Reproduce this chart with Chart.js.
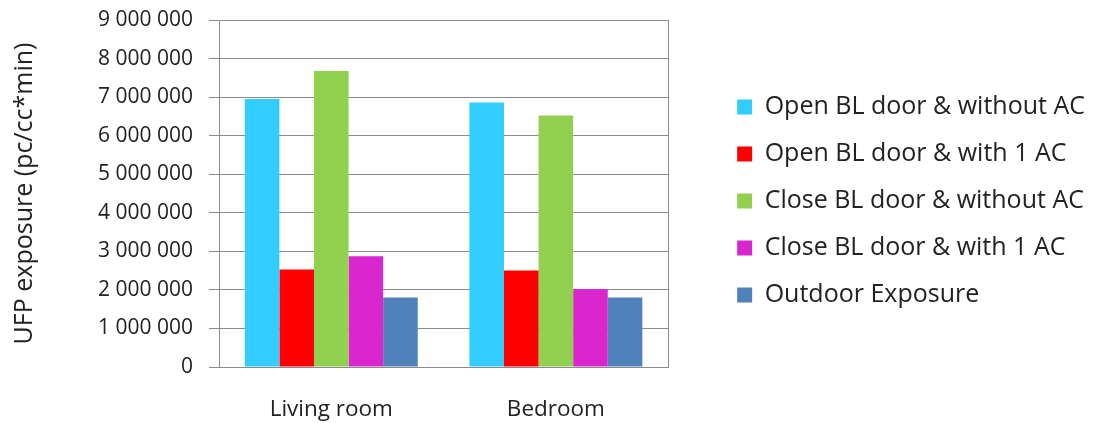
<!DOCTYPE html>
<html>
<head>
<meta charset="utf-8">
<script src="https://cdn.jsdelivr.net/npm/chart.js@4"></script>
<style>
  body { margin: 0; background: #fff; }
  canvas { display: block; }
</style>
</head>
<body>
<canvas id="myChart" width="1095" height="423"></canvas>
<script>
// values
const categories = ['Living room', 'Bedroom'];
const seriesNames = [
  'Open BL door & without AC',
  'Open BL door & with 1 AC',
  'Close BL door & without AC',
  'Close BL door & with 1 AC',
  'Outdoor Exposure'
];
const openNoAC = [6950000, 6860000];
const openOneAC = [2530000, 2500000];
const closeNoAC = [7680000, 6520000];
const closeOneAC = [2870000, 2020000];
const outdoor = [1800000, 1800000];
const yMax = 9000000;
const yStep = 1000000;

const colors = ['#33CCFF', '#FF0000', '#92D050', '#D926CF', '#4F81BD'];
const values = [openNoAC, openOneAC, closeNoAC, closeOneAC, outdoor];

const gridGray = '#8c8c8c';
const textColor = '#222';
const fontFamily = "'Open Sans', sans-serif";

function spaced(v) {
  return String(v).replace(/\B(?=(\d{3})+(?!\d))/g, ' ');
}

var ctx = document.getElementById('myChart').getContext('2d');
var myChart = new Chart(ctx, {
  type: 'bar',
  data: {
    labels: categories,
    datasets: seriesNames.map(function (name, i) {
      return {
        label: name,
        data: values[i],
        backgroundColor: colors[i],
        borderWidth: 0,
        barPercentage: 1,
        categoryPercentage: 0.77
      };
    })
  },
  options: {
    responsive: false,
    animation: false,
    layout: {
      padding: { left: 6, top: 20, right: 0, bottom: 0 }
    },
    plugins: {
      legend: {
        position: 'right',
        fullSize: false,
        maxWidth: 420,
        // empty title only pushes the items down a little
        title: { display: true, text: '', font: { size: 1 }, padding: { top: 0, bottom: 14 } },
        labels: {
          boxWidth: 15,
          boxHeight: 15,
          padding: 22,
          color: textColor,
          font: { family: fontFamily, size: 25 }
        }
      },
      tooltip: { enabled: false }
    },
    scales: {
      x: {
        grid: { display: false, drawTicks: false },
        border: { display: true, color: gridGray, width: 1 },
        ticks: {
          padding: 29,
          color: textColor,
          font: { family: fontFamily, size: 22.5 }
        },
        afterFit: function (scale) { scale.height = 56; }
      },
      y: {
        min: 0,
        max: yMax,
        ticks: {
          stepSize: yStep,
          padding: 16,
          color: textColor,
          font: { family: fontFamily, size: 21 },
          callback: function (v) { return spaced(v); }
        },
        grid: { color: gridGray, lineWidth: 1, tickLength: 10 },
        border: { display: true, color: gridGray, width: 1 },
        title: {
          display: true,
          text: 'UFP exposure (pc/cc*min)',
          color: textColor,
          font: { family: fontFamily, size: 25 }
        },
        afterFit: function (scale) {
          scale.width = 213;
          scale.paddingTop = 8;
          scale.paddingBottom = 8;
        }
      },
      y2: {
        position: 'right',
        min: 0,
        max: yMax,
        grid: { display: false, drawTicks: false },
        ticks: { display: false },
        border: { display: true, color: gridGray, width: 1 },
        afterFit: function (scale) { scale.width = 47; }
      }
    }
  }
});
</script>
</body>
</html>
